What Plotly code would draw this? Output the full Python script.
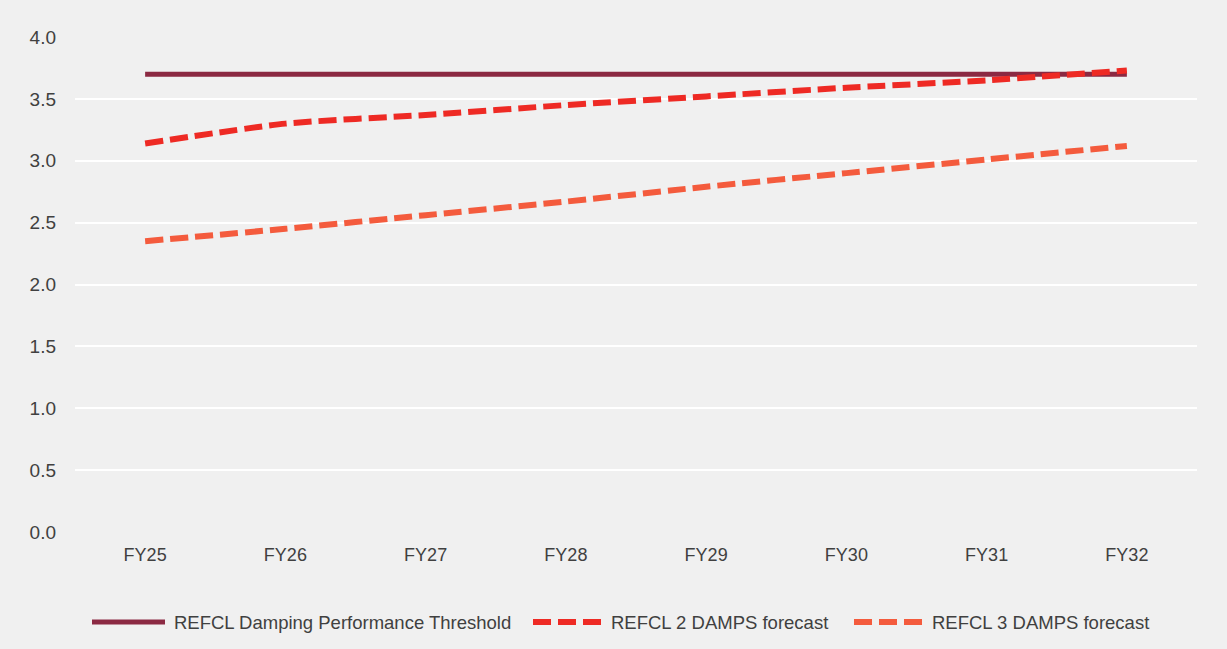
import plotly.graph_objects as go

# Financial years on the horizontal axis
years = ["FY25", "FY26", "FY27", "FY28", "FY29", "FY30", "FY31", "FY32"]

# Damping performance threshold and forecast series
threshold = [3.70, 3.70, 3.70, 3.70, 3.70, 3.70, 3.70, 3.70]
refcl2_forecast = [3.14, 3.30, 3.37, 3.45, 3.52, 3.59, 3.65, 3.73]
refcl3_forecast = [2.35, 2.45, 2.56, 2.67, 2.79, 2.90, 3.01, 3.12]

y_ticks = [0.0, 0.5, 1.0, 1.5, 2.0, 2.5, 3.0, 3.5, 4.0]

series_names = [
    "REFCL Damping Performance Threshold",
    "REFCL 2 DAMPS forecast",
    "REFCL 3 DAMPS forecast",
]
series_colors = ["#8b2942", "#ee2a24", "#f45b3d"]

FONT = "Liberation Sans, Arial, sans-serif"
TEXT = "#404040"
BG = "#f0f0f0"
W, H = 1227, 649
DASH = "18px,7px"

fig = go.Figure()
fig.add_trace(go.Scatter(
    x=years, y=threshold, mode="lines", name=series_names[0],
    line=dict(color=series_colors[0], width=5),
))
fig.add_trace(go.Scatter(
    x=years, y=refcl2_forecast, mode="lines", name=series_names[1],
    line=dict(color=series_colors[1], width=6, dash=DASH, shape="spline", smoothing=0.6),
))
fig.add_trace(go.Scatter(
    x=years, y=refcl3_forecast, mode="lines", name=series_names[2],
    line=dict(color=series_colors[2], width=6, dash=DASH, shape="spline", smoothing=0.6),
))

# Bottom legend with long line samples (pixel positions converted to paper units)
legend_y = 1 - 622 / H
legend_items = [
    (92, 165, 172, None, 5),
    (533, 603, 609, DASH, 6),
    (854, 924, 930, DASH, 6),
]
for (x0, x1, xt, dash, width), name, color in zip(legend_items, series_names, series_colors):
    fig.add_shape(
        type="line", xref="paper", yref="paper",
        x0=x0 / W, x1=x1 / W, y0=legend_y, y1=legend_y,
        line=dict(color=color, width=width, dash=dash),
    )
    fig.add_annotation(
        xref="paper", yref="paper", x=xt / W, y=legend_y,
        xanchor="left", yanchor="middle", showarrow=False,
        text=name, font=dict(family=FONT, size=18.5, color=TEXT),
    )

fig.update_layout(
    width=W, height=H,
    margin=dict(l=0, r=0, t=0, b=0, autoexpand=False),
    paper_bgcolor=BG, plot_bgcolor=BG,
    font=dict(family=FONT, size=18, color=TEXT),
    showlegend=False,
    xaxis=dict(domain=[75 / W, 1197 / W]),
    yaxis=dict(domain=[1 - 532 / H, 1 - 37 / H]),
)
fig.update_xaxes(
    range=[-0.5, 7.5], automargin=False,
    showgrid=False, zeroline=False, showline=False, ticks="",
    tickfont=dict(size=18, color=TEXT), ticklabelstandoff=10,
)
fig.update_yaxes(
    range=[0, 4.0], tickvals=y_ticks, tickformat=".1f", automargin=False,
    showgrid=True, gridcolor="#ffffff", gridwidth=2,
    zeroline=False, showline=False, ticks="",
    tickfont=dict(size=19, color=TEXT), ticklabelstandoff=18,
)

fig.write_html("out.html")
